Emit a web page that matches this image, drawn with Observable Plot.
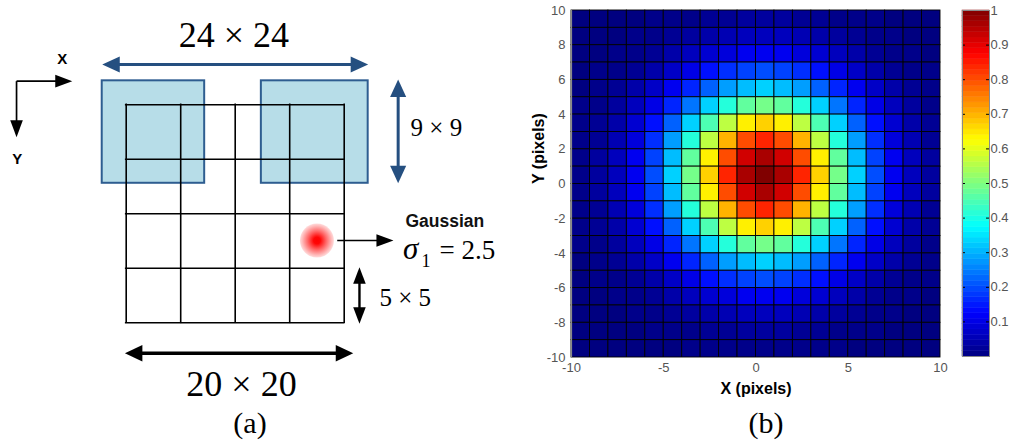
<!DOCTYPE html>
<html>
<head>
<meta charset="utf-8">
<script src="https://cdn.jsdelivr.net/npm/d3@7"></script>
<script src="https://cdn.jsdelivr.net/npm/@observablehq/plot@0.6"></script>
<style>
  html, body { margin: 0; padding: 0; background: #fff; }
  #fig { position: relative; width: 1010px; height: 441px; overflow: hidden; }
  #fig svg { position: absolute; top: 0; overflow: visible; }
  .cap { position: absolute; top: 408px; font: 30px/30px "Liberation Serif", "Times New Roman", serif;
         color: #000; transform: translateX(-50%); white-space: nowrap; }
</style>
</head>
<body>
<div id="fig"></div>
<script>
// ---------------- Panel (a): sampling layout, in diagram units (1 unit = 1 pixel of the 20×20 patch)
const gridLines = [0, 5, 10, 15, 20];
const windows = [
  {x1: -2.2, x2: 7.2, y1: -2.2, y2: 7.2},
  {x1: 12.4, x2: 22.2, y1: -2.2, y2: 7.2}
];
const blueArrows = [
  {x1: -2.2, y1: -3.7, x2: 22.2, y2: -3.7, both: true},
  {x1: 24.95, y1: -2.33, x2: 24.95, y2: 7.19, both: true}
];
const blackArrows = [
  {x1: -0.12, y1: 22.79, x2: 20.83, y2: 22.79, both: true}
];
const smallArrows = [
  {x1: 21.4, y1: 14.9, x2: 21.4, y2: 20.09, both: true}
];
const pointers = [
  {x1: 19.36, y1: 12.45, x2: 24.52, y2: 12.45},
  {x1: -10.06, y1: -2.17, x2: -4.95, y2: -2.17},
  {x1: -10.06, y1: -2.17, x2: -10.06, y2: 2.97}
];
const gaussianSpot = [{x: 17.5, y: 12.45}];
const bigLabels = [
  {text: "24 × 24", x: 9.87, y: -5.28},
  {text: "20 × 20", x: 10.58, y: 26.67}
];
const sizeLabels = [
  {text: "9 × 9", x: 28.46, y: 2.82},
  {text: "5 × 5", x: 25.6, y: 18.5}
];
const axisLetters = [
  {text: "X", x: -5.87, y: -3.74},
  {text: "Y", x: -10.0, y: 5.41}
];

// ---------------- Panel (b): Gaussian intensity on a 20×20 grid
const xCells = [-10, -9, -8, -7, -6, -5, -4, -3, -2, -1, 0, 1, 2, 3, 4, 5, 6, 7, 8, 9];
const yCells = [9, 8, 7, 6, 5, 4, 3, 2, 1, 0, -1, -2, -3, -4, -5, -6, -7, -8, -9, -10];
const intensity = [
  [0.00,0.00,0.00,0.00,0.01,0.01,0.01,0.02,0.02,0.03,0.03,0.03,0.02,0.02,0.01,0.01,0.01,0.00,0.00,0.00],
  [0.00,0.00,0.00,0.01,0.01,0.02,0.03,0.04,0.05,0.06,0.06,0.06,0.05,0.04,0.03,0.02,0.01,0.01,0.00,0.00],
  [0.00,0.00,0.01,0.01,0.02,0.04,0.06,0.08,0.09,0.11,0.11,0.11,0.09,0.08,0.06,0.04,0.02,0.01,0.01,0.00],
  [0.00,0.01,0.01,0.02,0.04,0.07,0.10,0.14,0.17,0.19,0.20,0.19,0.17,0.14,0.10,0.07,0.04,0.02,0.01,0.01],
  [0.00,0.01,0.02,0.04,0.07,0.11,0.16,0.22,0.28,0.31,0.33,0.31,0.28,0.22,0.16,0.11,0.07,0.04,0.02,0.01],
  [0.01,0.01,0.03,0.06,0.10,0.16,0.24,0.33,0.41,0.47,0.49,0.47,0.41,0.33,0.24,0.16,0.10,0.06,0.03,0.01],
  [0.01,0.02,0.04,0.08,0.14,0.22,0.33,0.45,0.56,0.64,0.67,0.64,0.56,0.45,0.33,0.22,0.14,0.08,0.04,0.02],
  [0.01,0.02,0.05,0.09,0.17,0.28,0.41,0.56,0.70,0.80,0.84,0.80,0.70,0.56,0.41,0.28,0.17,0.09,0.05,0.02],
  [0.01,0.03,0.06,0.11,0.19,0.31,0.47,0.64,0.80,0.92,0.96,0.92,0.80,0.64,0.47,0.31,0.19,0.11,0.06,0.03],
  [0.01,0.03,0.06,0.11,0.20,0.33,0.49,0.67,0.84,0.96,1.00,0.96,0.84,0.67,0.49,0.33,0.20,0.11,0.06,0.03],
  [0.01,0.03,0.06,0.11,0.19,0.31,0.47,0.64,0.80,0.92,0.96,0.92,0.80,0.64,0.47,0.31,0.19,0.11,0.06,0.03],
  [0.01,0.02,0.05,0.09,0.17,0.28,0.41,0.56,0.70,0.80,0.84,0.80,0.70,0.56,0.41,0.28,0.17,0.09,0.05,0.02],
  [0.01,0.02,0.04,0.08,0.14,0.22,0.33,0.45,0.56,0.64,0.67,0.64,0.56,0.45,0.33,0.22,0.14,0.08,0.04,0.02],
  [0.01,0.01,0.03,0.06,0.10,0.16,0.24,0.33,0.41,0.47,0.49,0.47,0.41,0.33,0.24,0.16,0.10,0.06,0.03,0.01],
  [0.00,0.01,0.02,0.04,0.07,0.11,0.16,0.22,0.28,0.31,0.33,0.31,0.28,0.22,0.16,0.11,0.07,0.04,0.02,0.01],
  [0.00,0.01,0.01,0.02,0.04,0.07,0.10,0.14,0.17,0.19,0.20,0.19,0.17,0.14,0.10,0.07,0.04,0.02,0.01,0.01],
  [0.00,0.00,0.01,0.01,0.02,0.04,0.06,0.08,0.09,0.11,0.11,0.11,0.09,0.08,0.06,0.04,0.02,0.01,0.01,0.00],
  [0.00,0.00,0.00,0.01,0.01,0.02,0.03,0.04,0.05,0.06,0.06,0.06,0.05,0.04,0.03,0.02,0.01,0.01,0.00,0.00],
  [0.00,0.00,0.00,0.00,0.01,0.01,0.01,0.02,0.02,0.03,0.03,0.03,0.02,0.02,0.01,0.01,0.01,0.00,0.00,0.00],
  [0.00,0.00,0.00,0.00,0.00,0.00,0.01,0.01,0.01,0.01,0.01,0.01,0.01,0.01,0.01,0.00,0.00,0.00,0.00,0.00]
];
const xTicks = [-10, -5, 0, 5, 10];
const yTicks = [-10, -8, -6, -4, -2, 0, 2, 4, 6, 8, 10];
const barTicks = [0.1, 0.2, 0.3, 0.4, 0.5, 0.6, 0.7, 0.8, 0.9, 1];

// ---------------- shared styling
const SANS = "Liberation Sans, Arial, Helvetica, sans-serif";
const SERIF = "Liberation Serif, Times New Roman, serif";
const NAVY = "#254f80";
const jet = d3.scaleLinear()
  .domain([0, 0.125, 0.375, 0.625, 0.875, 1])
  .range(["#000080", "#0000ff", "#00ffff", "#ffff00", "#ff0000", "#800000"])
  .clamp(true);
const colorScale = {type: "linear", domain: [0, 1], interpolate: t => jet(t)};
const plainNumber = d => String(d);   // hyphen-minus, as in the original axes

const fig = document.getElementById("fig");

// make per-mark font families win over the SVG-wide default
function pinFonts(svg) {
  d3.select(svg).selectAll("[font-family]").each(function () {
    const fam = this.getAttribute("font-family");
    d3.select(this).selectAll("text").style("font-family", fam);
  });
}

// ================= Panel (a)
const unit = 10.9;            // screen pixels per diagram unit
const ox = 125.7, oy = 104.3; // where the patch corner (0,0) sits
const W_A = 520, H_A = 441;

// filled arrowhead with its tip at the anchor point, pointing along +x
const headSymbol = ratio => ({
  draw(context, size) {
    const l = Math.sqrt(size / Math.PI);
    const w = l * ratio;
    context.moveTo(0, 0);
    context.lineTo(-l, -w);
    context.lineTo(-l, w);
    context.closePath();
  }
});

function arrowMarks(list, {color, width, head, ratio}) {
  const inset = (head - 3) / unit;
  const shafts = list.map(a => {
    const dx = a.x2 - a.x1, dy = a.y2 - a.y1, len = Math.hypot(dx, dy);
    const ux = dx / len, uy = dy / len, s = a.both ? inset : 0;
    return {x1: a.x1 + ux * s, y1: a.y1 + uy * s, x2: a.x2 - ux * inset, y2: a.y2 - uy * inset};
  });
  const heads = list.flatMap(a => {
    const ang = Math.atan2(a.y2 - a.y1, a.x2 - a.x1) * 180 / Math.PI;
    const h = [{x: a.x2, y: a.y2, angle: ang}];
    if (a.both) h.push({x: a.x1, y: a.y1, angle: ang + 180});
    return h;
  });
  return [
    Plot.link(shafts, {x1: "x1", y1: "y1", x2: "x2", y2: "y2", stroke: color, strokeWidth: width}),
    Plot.dot(heads, {x: "x", y: "y", rotate: "angle", r: head, symbol: headSymbol(ratio), fill: color, stroke: "none"})
  ];
}

const spotGradient = () => {
  const defs = d3.create("svg:defs");
  const g = defs.append("radialGradient").attr("id", "spot");
  [[0, "#ff0000"], [0.2, "#ff0606"], [0.55, "#ff6a6a"], [0.85, "#ffb8b8"], [1, "#ffdcdc"]]
    .forEach(([o, c]) => g.append("stop").attr("offset", o).attr("stop-color", c));
  return defs.node();
};

const panelA = Plot.plot({
  width: W_A, height: H_A, margin: 0,
  style: {background: "transparent", fontFamily: SANS},
  x: {domain: [-ox / unit, (W_A - ox) / unit], axis: null},
  y: {domain: [-oy / unit, (H_A - oy) / unit], reverse: true, axis: null},
  marks: [
    spotGradient,
    Plot.rect(windows, {x1: "x1", x2: "x2", y1: "y1", y2: "y2", fill: "#b7dde8", stroke: "#2e5d90", strokeWidth: 2}),
    Plot.ruleX(gridLines, {y1: 0, y2: 20, stroke: "#000", strokeWidth: 1.6, strokeLinecap: "square"}),
    Plot.ruleY(gridLines, {x1: 0, x2: 20, stroke: "#000", strokeWidth: 1.6, strokeLinecap: "square"}),
    Plot.dot(gaussianSpot, {x: "x", y: "y", r: 17, fill: "url(#spot)", stroke: "none"}),
    ...arrowMarks(blueArrows, {color: NAVY, width: 3, head: 17.5, ratio: 0.46}),
    ...arrowMarks(blackArrows, {color: "#000", width: 3.5, head: 17.5, ratio: 0.47}),
    ...arrowMarks(smallArrows, {color: "#000", width: 2.4, head: 16.5, ratio: 0.38}),
    ...arrowMarks(pointers, {color: "#000", width: 1.7, head: 17, ratio: 0.37}),
    Plot.text(bigLabels, {x: "x", y: "y", text: "text", lineAnchor: "bottom", fontSize: 36, fontFamily: SERIF, fill: "#000"}),
    Plot.text(sizeLabels, {x: "x", y: "y", text: "text", lineAnchor: "bottom", fontSize: 25, fontFamily: SERIF, fill: "#000"}),
    Plot.text(axisLetters, {x: "x", y: "y", text: "text", lineAnchor: "bottom", fontSize: 15, fontWeight: "bold", fontFamily: SANS, fill: "#000"}),
    Plot.text(["Gaussian"], {x: 25.62, y: 11.17, textAnchor: "start", lineAnchor: "bottom", fontSize: 17.5, fontWeight: "bold", fontFamily: SANS, fill: "#111"}),
    Plot.text(["σ"], {x: 25.4, y: 14.13, textAnchor: "start", lineAnchor: "bottom", fontSize: 31, fontStyle: "italic", fontFamily: SERIF, fill: "#000"}),
    Plot.text(["1"], {x: 27.1, y: 14.85, textAnchor: "start", lineAnchor: "bottom", fontSize: 18, fontFamily: SERIF, fill: "#000"}),
    Plot.text(["= 2.5"], {x: 28.75, y: 14.13, textAnchor: "start", lineAnchor: "bottom", fontSize: 27, fontFamily: SERIF, fill: "#000"})
  ]
});
pinFonts(panelA);
panelA.style.left = "0px";
fig.appendChild(panelA);

// ================= Panel (b)
const cells = yCells.flatMap((y, r) => xCells.map((x, c) => ({x, y, v: intensity[r][c]})));

const panelB = Plot.plot({
  width: 460, height: 441,
  marginLeft: 71, marginRight: 20, marginTop: 10, marginBottom: 84,
  style: {background: "transparent", fontFamily: SANS},
  x: {domain: [-10, 10]},
  y: {domain: [-10, 10]},
  color: colorScale,
  marks: [
    Plot.rect(cells, {x1: "x", x2: d => d.x + 1, y1: "y", y2: d => d.y + 1, fill: "v", stroke: "#000", strokeWidth: 0.9}),
    Plot.ruleX([-10], {stroke: "#8a8a8a", strokeWidth: 1.2}),
    Plot.ruleY([-10], {stroke: "#8a8a8a", strokeWidth: 1.2}),
    Plot.axisX(xTicks, {tickSize: 0, tickPadding: 5, fontSize: 13, fill: "#555", label: null, tickFormat: plainNumber}),
    Plot.axisY(yTicks, {tickSize: 0, tickPadding: 6, fontSize: 13, fill: "#555", label: null, tickFormat: plainNumber}),
    Plot.text(["X (pixels)"], {frameAnchor: "bottom", dy: 36, lineAnchor: "bottom", fontSize: 16, fontWeight: "bold", fill: "#000"}),
    Plot.text(["Y (pixels)"], {frameAnchor: "left", dx: -33, rotate: -90, lineAnchor: "middle", fontSize: 16, fontWeight: "bold", fill: "#000"})
  ]
});
panelB.style.left = "500px";
fig.appendChild(panelB);

// colour bar
const levels = d3.range(64).map(i => i / 64);
const colorBar = Plot.plot({
  width: 55, height: 441,
  marginLeft: 7, marginRight: 21, marginTop: 10, marginBottom: 85,
  style: {background: "transparent", fontFamily: SANS},
  x: {domain: [0, 1], axis: null},
  y: {domain: [0, 1]},
  color: colorScale,
  marks: [
    Plot.rect(levels, {x1: 0, x2: 1, y1: d => d, y2: d => d + 1 / 64, fill: d => d + 0.5 / 64, stroke: d => d + 0.5 / 64, strokeWidth: 0.5}),
    Plot.ruleY(barTicks.filter(t => t < 1), {x1: 0, x2: 0.11, stroke: "#000"}),
    Plot.ruleY(barTicks.filter(t => t < 1), {x1: 0.89, x2: 1, stroke: "#000"}),
    Plot.frame({stroke: "#8a8a8a"}),
    Plot.axisY(barTicks, {anchor: "right", tickSize: 0, tickPadding: 1, fontSize: 13, fill: "#555", label: null, tickFormat: d3.format("~g")})
  ]
});
colorBar.style.left = "955px";
fig.appendChild(colorBar);

// panel captions
[["(a)", 250], ["(b)", 766]].forEach(([t, cx]) => {
  const d = document.createElement("div");
  d.className = "cap";
  d.textContent = t;
  d.style.left = cx + "px";
  fig.appendChild(d);
});
</script>
</body>
</html>
